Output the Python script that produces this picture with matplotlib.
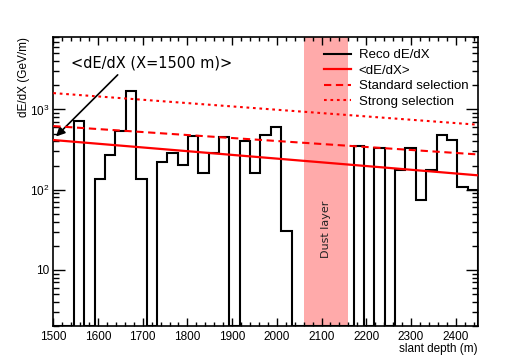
import numpy as np
import matplotlib
matplotlib.use("Agg")
import matplotlib.pyplot as plt
from matplotlib.ticker import FixedLocator, FixedFormatter, MultipleLocator, LogLocator, NullFormatter

# ---- data ----
bin_start = 1500.0
bin_width = 23.17
reco_dedx = [0, 0, 708, 0, 137, 267, 544, 1710, 136, 0,
             221, 288, 201, 470, 161, 283, 448, 0, 399, 161,
             474, 597, 30.8, 0, 0, 0, 0, 0, 0, 346,
             0, 334, 0, 174, 332, 73.6, 176, 480, 411, 107,
             100]
line_x = [1500, 2450]
mean_dedx = [416, 151]
standard_sel = [621, 275]
strong_sel = [1600, 645]
dust_layer = [2060, 2160]
x_ticks = [1500, 1600, 1700, 1800, 1900, 2000, 2100, 2200, 2300, 2400]
y_ticks = [10, 100, 1000]
y_ticklabels = ["10", "$10^{2}$", "$10^{3}$"]

ymin, ymax = 2.0, 8000.0
xmin, xmax = 1500, 2450

plt.rcParams['font.family'] = ['Liberation Sans', 'DejaVu Sans']
plt.rcParams['mathtext.fontset'] = 'custom'
plt.rcParams['mathtext.rm'] = 'Liberation Sans'

fig = plt.figure(figsize=(5.32, 3.63), dpi=100)
ax = fig.add_axes([0.1002, 0.102, 0.7983, 0.796])
ax.set_yscale('log')
ax.set_xlim(xmin, xmax)
ax.set_ylim(ymin, ymax)

# dust layer band
ax.axvspan(dust_layer[0], dust_layer[1], color='#ffaaaa', lw=0, zorder=0)
ax.text(0.5 * (dust_layer[0] + dust_layer[1]), 32, "Dust layer", rotation=90,
        ha='center', va='center', fontsize=8, family='DejaVu Sans', color='#222222')

# histogram
vals = np.array(reco_dedx, dtype=float)
edges = bin_start + bin_width * np.arange(len(vals) + 1)
draw_vals = np.where(vals > 0, vals, ymin)
ax.stairs(draw_vals, edges, baseline=ymin, color='black', lw=1.5, zorder=3,
          label='Reco dE/dX')

# lines
ax.plot(line_x, mean_dedx, color='red', lw=1.6, zorder=4, label='<dE/dX>')
ax.plot(line_x, standard_sel, color='red', lw=1.5, ls=(0, (3.5, 2.2)), zorder=4,
        label='Standard selection')
ax.plot(line_x, strong_sel, color='red', lw=1.5, ls=(0, (1.3, 1.8)), zorder=4,
        label='Strong selection')

# annotation
ax.annotate("", xy=(1506, 461), xytext=(1644, 2700),
            arrowprops=dict(arrowstyle='-|>', color='black', lw=1.2,
                            mutation_scale=13, shrinkA=0, shrinkB=0))
ax.text(1539, 3800, "<dE/dX (X=1500 m)>", fontsize=10.5, family='DejaVu Sans',
        ha='left', va='center')

# ticks
ax.xaxis.set_major_locator(FixedLocator(x_ticks))
ax.xaxis.set_minor_locator(MultipleLocator(20))
ax.yaxis.set_major_locator(FixedLocator(y_ticks))
ax.yaxis.set_major_formatter(FixedFormatter(y_ticklabels))
ax.yaxis.set_minor_locator(LogLocator(base=10, subs=np.arange(2, 10)))
ax.yaxis.set_minor_formatter(NullFormatter())
ax.tick_params(axis='both', which='both', direction='in', top=True, right=True,
               labelsize=8.5, width=1)
ax.tick_params(axis='x', which='major', length=5.8, pad=3.5)
ax.tick_params(axis='x', which='minor', length=2.9)
ax.tick_params(axis='y', which='major', length=8.6, pad=3)
ax.tick_params(axis='y', which='minor', length=4.3)
for s in ax.spines.values():
    s.set_linewidth(1.2)

ax.set_xlabel("slant depth (m)", fontsize=8.5, loc='right', labelpad=0)
ax.set_ylabel("dE/dX (GeV/m)", fontsize=8.5, loc='top', labelpad=0)

leg = ax.legend(loc='upper left', bbox_to_anchor=(0.61, 1.0), frameon=False,
                fontsize=9.5, handlelength=2.0, handletextpad=0.6,
                labelspacing=0.25, borderaxespad=0.5)

fig.savefig("out.png", dpi=100)
